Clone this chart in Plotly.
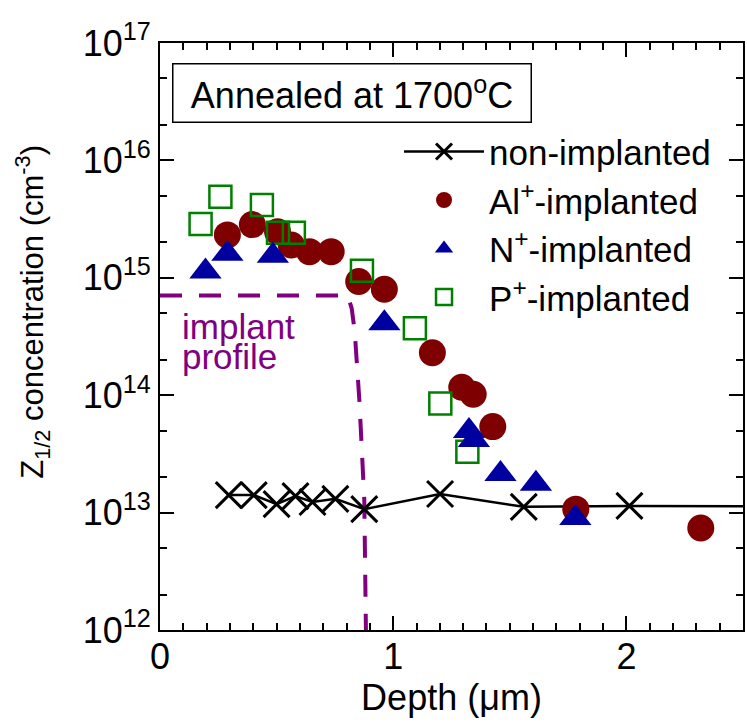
import plotly.graph_objects as go

# ---------------- data ----------------
depth_non = [0.295, 0.402, 0.500, 0.581, 0.654, 0.752, 0.876, 1.201, 1.560, 2.013, 2.600]
conc_non = [1.41e13, 1.41e13, 1.18e13, 1.38e13, 1.23e13, 1.31e13, 1.07e13, 1.44e13, 1.12e13, 1.14e13, 1.13e13]

depth_al = [0.289, 0.396, 0.504, 0.563, 0.641, 0.734, 0.852, 0.962, 1.168, 1.294, 1.343, 1.427, 1.783, 2.319]
conc_al = [2.32e15, 2.84e15, 2.47e15, 1.90e15, 1.67e15, 1.67e15, 9.3e14, 7.98e14, 2.3e14, 1.17e14, 1.02e14, 5.4e13, 1.07e13, 7.4e12]

depth_n = [0.195, 0.289, 0.484, 0.962, 1.325, 1.346, 1.460, 1.612, 1.781]
conc_n = [1.13e15, 1.60e15, 1.54e15, 4.1e14, 4.95e13, 4.15e13, 2.13e13, 1.76e13, 9.0e12]

depth_p = [0.174, 0.259, 0.437, 0.506, 0.574, 0.866, 1.093, 1.202, 1.318]
conc_p = [2.87e15, 4.9e15, 4.17e15, 2.42e15, 2.42e15, 1.15e15, 3.72e14, 8.5e13, 3.3e13]

depth_implant = [0.0, 0.805, 0.822, 0.835, 0.855, 0.876, 0.883, 0.886]
conc_implant = [7.05e14, 7.05e14, 5.5e14, 3.5e14, 9.0e13, 1.3e13, 1.0e12, 1.0e11]

ytick_vals = [1e12, 1e13, 1e14, 1e15, 1e16, 1e17]
ytick_text = ["10<sup>12</sup>", "10<sup>13</sup>", "10<sup>14</sup>",
              "10<sup>15</sup>", "10<sup>16</sup>", "10<sup>17</sup>"]
xtick_vals = [0, 1, 2]
xtick_text = ["0", "1", "2"]

FONT = "Liberation Sans, Arial, sans-serif"
MAROON = "#7f0000"
NAVY = "#0000a0"
GREEN = "#008000"
PURPLE = "#800080"

fig = go.Figure()

fig.add_trace(go.Scatter(
    x=depth_implant, y=conc_implant, mode="lines",
    line=dict(color=PURPLE, width=4, dash="22px,17px"),
    showlegend=False, hoverinfo="skip"))

fig.add_trace(go.Scatter(
    x=depth_non, y=conc_non, mode="lines+markers", name="non-implanted",
    line=dict(color="black", width=2.5),
    marker=dict(symbol="x-thin", size=26, line=dict(color="black", width=3)),
    legendrank=1))

fig.add_trace(go.Scatter(
    x=depth_al, y=conc_al, mode="markers", name="Al<sup>+</sup>-implanted",
    marker=dict(symbol="circle", size=27, color=MAROON),
    legendrank=2))

fig.add_trace(go.Scatter(
    x=depth_p, y=conc_p, mode="markers", name="P<sup>+</sup>-implanted",
    marker=dict(symbol="square-open", size=22, color=GREEN, line=dict(color=GREEN, width=2.5)),
    legendrank=4))

fig.add_trace(go.Scatter(
    x=depth_n, y=conc_n, mode="markers", name="N<sup>+</sup>-implanted",
    marker=dict(symbol="triangle-up", size=28, color=NAVY),
    legendrank=3))

axis_common = dict(
    showline=True, linecolor="black", linewidth=2, mirror="allticks",
    ticks="inside", tickcolor="black", tickwidth=1.5, ticklen=14,
    showgrid=False, zeroline=False,
    tickfont=dict(family=FONT, size=36, color="black"),
)

fig.update_xaxes(
    range=[0, 2.5], tickmode="array", tickvals=xtick_vals, ticktext=xtick_text,
    ticklabelstandoff=-6,
    minor=dict(ticks="inside", ticklen=7, tickwidth=1.5, tickcolor="black", dtick=0.1, showgrid=False),
    title=dict(text="Depth (\u03bcm)", font=dict(family=FONT, size=36, color="black"), standoff=2),
    **axis_common)

fig.update_yaxes(
    type="log", range=[12, 17], tickmode="array", tickvals=ytick_vals, ticktext=ytick_text,
    minor=dict(ticks="inside", ticklen=7, tickwidth=1.5, tickcolor="black", showgrid=False),
    **axis_common)

fig.add_annotation(
    text="Z<sub>1/2</sub> concentration (cm<sup>-3</sup>)", textangle=-90,
    xref="paper", yref="paper", x=-0.218, y=0.542, xanchor="center", yanchor="middle",
    showarrow=False, font=dict(family=FONT, size=31, color="black"))

fig.add_annotation(
    text="Annealed at 1700<sup>o</sup>C",
    xref="paper", yref="paper", x=0.0205, y=0.966, xanchor="left", yanchor="top",
    showarrow=False, width=355, height=55, borderpad=1,
    bordercolor="black", borderwidth=1.5, bgcolor="white",
    font=dict(family=FONT, size=36, color="black"))

fig.add_annotation(
    text="implant", xref="x", yref="y", x=0.085, y=14.585, xanchor="left", yanchor="middle",
    showarrow=False, font=dict(family=FONT, size=35, color=PURPLE))
fig.add_annotation(
    text="profile", xref="x", yref="y", x=0.085, y=14.33, xanchor="left", yanchor="middle",
    showarrow=False, font=dict(family=FONT, size=35, color=PURPLE))

fig.update_layout(
    width=747, height=724,
    margin=dict(l=160, r=2, t=43, b=94),
    plot_bgcolor="white", paper_bgcolor="white",
    font=dict(family=FONT, color="black"),
    legend=dict(x=0.41, y=0.865, xanchor="left", yanchor="top",
                bgcolor="rgba(0,0,0,0)", borderwidth=0, itemwidth=80,
                font=dict(family=FONT, size=35, color="black"),
                tracegroupgap=0),
)

fig.write_html("out.html")
